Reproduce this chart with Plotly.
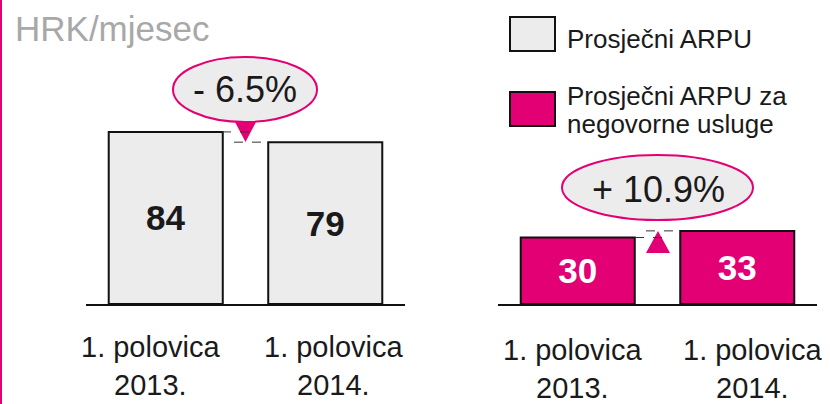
import plotly.graph_objects as go

# ---- data ----
categories = ["1. polovica 2013.", "1. polovica 2014."]
tick_labels = ["1. polovica<br>2013.", "1. polovica<br>2014."]
arpu_total = [84, 79]
arpu_voice = [30, 33]
change_total = "- 6.5%"
change_voice = "+ 10.9%"
unit_label = "HRK/mjesec"
legend_labels = ["Prosječni ARPU", "Prosječni ARPU za", "negovorne usluge"]

W, H = 830, 404
MAGENTA = "#E20074"
GREY = "#ECECEC"
TXT = "#1a1a1a"
FONT = "Liberation Sans, Arial, sans-serif"
BOLD = "Liberation Sans, Arial, sans-serif"


def px(x):
    return x / W


def py(y):
    return 1 - y / H


fig = go.Figure()

fig.add_trace(go.Bar(
    x=categories, y=arpu_total, xaxis="x", yaxis="y",
    marker=dict(color=GREY, line=dict(color="#111111", width=2)),
    text=[str(v) for v in arpu_total], textposition="inside",
    insidetextanchor="middle",
    textfont=dict(family=BOLD, size=35, color=TXT, weight="bold"),
    showlegend=False, hoverinfo="skip",
))
fig.add_trace(go.Bar(
    x=categories, y=arpu_voice, xaxis="x2", yaxis="y2",
    marker=dict(color=MAGENTA, line=dict(color="#111111", width=2)),
    text=[str(v) for v in arpu_voice], textposition="inside",
    insidetextanchor="middle",
    textfont=dict(family=BOLD, size=35, color="white", weight="bold"),
    showlegend=False, hoverinfo="skip",
))

ydom = [py(304), 1.0]
axis_common = dict(showgrid=False, zeroline=False, showticklabels=False,
                   ticks="", showline=True, linecolor="#111111", linewidth=2,
                   fixedrange=True, range=[-0.5, 1.5], autorange=False)
fig.update_layout(
    width=W, height=H, autosize=False,
    margin=dict(l=0, r=0, t=0, b=0),
    paper_bgcolor="white", plot_bgcolor="rgba(0,0,0,0)",
    bargap=0.285,
    xaxis=dict(domain=[px(86), px(405)], anchor="y", **axis_common),
    yaxis=dict(domain=ydom, range=[0, 148.4], anchor="x", visible=False, fixedrange=True),
    xaxis2=dict(domain=[px(498), px(817)], anchor="y2", **axis_common),
    yaxis2=dict(domain=ydom, range=[0, 137.2], anchor="x2", visible=False, fixedrange=True),
)

shapes = []
# left magenta frame line
shapes.append(dict(type="line", xref="paper", yref="paper",
                   x0=px(1), x1=px(1), y0=0, y1=1,
                   line=dict(color=MAGENTA, width=2)))

# change bubbles
shapes.append(dict(type="circle", xref="paper", yref="paper",
                   x0=px(173), x1=px(317), y0=py(122), y1=py(57),
                   fillcolor=GREY, line=dict(color=MAGENTA, width=2)))
shapes.append(dict(type="circle", xref="paper", yref="paper",
                   x0=px(562), x1=px(753), y0=py(220), y1=py(155),
                   fillcolor=GREY, line=dict(color=MAGENTA, width=2)))

# arrows
shapes.append(dict(type="path", xref="paper", yref="paper",
                   path=f"M {px(235)} {py(122)} L {px(256)} {py(122)} L {px(245.5)} {py(142)} Z",
                   fillcolor=MAGENTA, line=dict(width=0)))
shapes.append(dict(type="path", xref="paper", yref="paper",
                   path=f"M {px(646)} {py(253)} L {px(670)} {py(253)} L {px(658)} {py(231)} Z",
                   fillcolor=MAGENTA, line=dict(width=0)))

# dashed helper lines at bar tops
dash = dict(color="#333333", width=1, dash="dash")
shapes.append(dict(type="line", xref="paper", yref="y", x0=px(222), x1=px(258),
                   y0=arpu_total[0], y1=arpu_total[0], line=dash))
shapes.append(dict(type="line", xref="paper", yref="y", x0=px(234), x1=px(268),
                   y0=arpu_total[1], y1=arpu_total[1], line=dash))
shapes.append(dict(type="line", xref="paper", yref="y2", x0=px(635), x1=px(670),
                   y0=arpu_voice[0], y1=arpu_voice[0], line=dash))
shapes.append(dict(type="line", xref="paper", yref="y2", x0=px(646), x1=px(680),
                   y0=arpu_voice[1], y1=arpu_voice[1], line=dash))

# legend swatches
shapes.append(dict(type="rect", xref="paper", yref="paper",
                   x0=px(510), x1=px(555), y0=py(51), y1=py(17),
                   fillcolor=GREY, line=dict(color="#111111", width=2)))
shapes.append(dict(type="rect", xref="paper", yref="paper",
                   x0=px(510), x1=px(555), y0=py(126), y1=py(92),
                   fillcolor=MAGENTA, line=dict(color="#111111", width=2)))

annotations = []
annotations.append(dict(xref="paper", yref="paper", x=px(13), y=py(29),
                        xanchor="left", yanchor="middle", showarrow=False,
                        text=unit_label,
                        font=dict(family=FONT, size=35, color="#A8A8A8")))
annotations.append(dict(xref="paper", yref="paper", x=px(245), y=py(90),
                        xanchor="center", yanchor="middle", showarrow=False,
                        text=change_total,
                        font=dict(family=FONT, size=36, color=TXT)))
annotations.append(dict(xref="paper", yref="paper", x=px(658), y=py(189),
                        xanchor="center", yanchor="middle", showarrow=False,
                        text=change_voice,
                        font=dict(family=FONT, size=36, color=TXT)))

# legend texts
annotations.append(dict(xref="paper", yref="paper", x=px(565), y=py(39),
                        xanchor="left", yanchor="middle", showarrow=False,
                        text=legend_labels[0],
                        font=dict(family=FONT, size=26, color=TXT)))
annotations.append(dict(xref="paper", yref="paper", x=px(565), y=py(96),
                        xanchor="left", yanchor="middle", showarrow=False,
                        text=legend_labels[1],
                        font=dict(family=FONT, size=26, color=TXT)))
annotations.append(dict(xref="paper", yref="paper", x=px(565), y=py(124),
                        xanchor="left", yanchor="middle", showarrow=False,
                        text=legend_labels[2],
                        font=dict(family=FONT, size=26, color=TXT)))

# category labels
left_shift = [-15, 9]
right_shift = [-5, 16]
for i, cat in enumerate(categories):
    annotations.append(dict(xref="x", yref="paper", x=cat, y=py(366),
                            xshift=left_shift[i],
                            xanchor="center", yanchor="middle", showarrow=False,
                            text=tick_labels[i],
                            font=dict(family=FONT, size=29, color=TXT)))
    annotations.append(dict(xref="x2", yref="paper", x=cat, y=py(369),
                            xshift=right_shift[i],
                            xanchor="center", yanchor="middle", showarrow=False,
                            text=tick_labels[i],
                            font=dict(family=FONT, size=29, color=TXT)))

fig.update_layout(shapes=shapes, annotations=annotations)
fig.write_html("out.html", config={"displayModeBar": False},
               post_script="document.body.style.margin='0';document.body.style.overflow='hidden';")
